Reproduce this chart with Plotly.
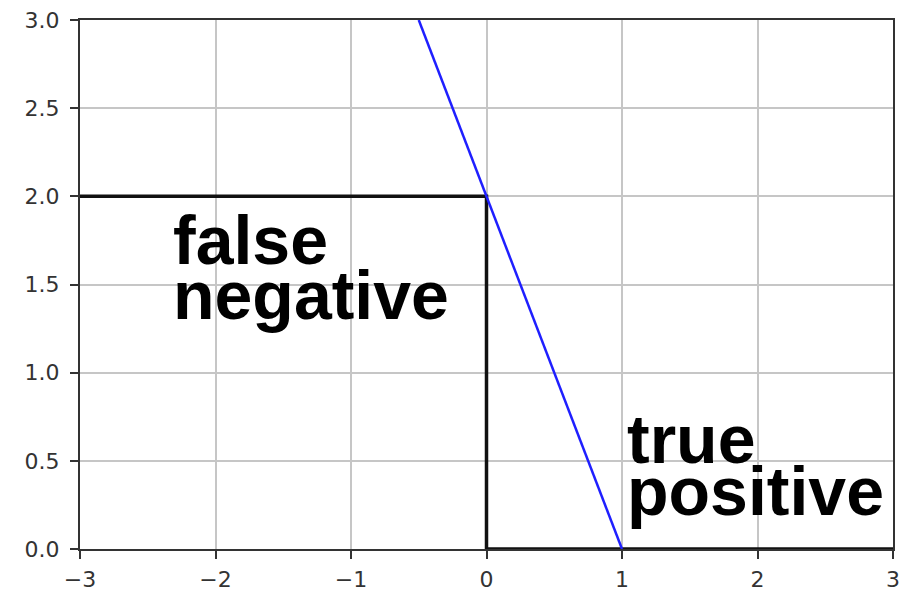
import plotly.graph_objects as go

# Decision boundary (blue) and the step classifier (black)
boundary_x = [-0.5, 1.0]
boundary_y = [3.0, 0.0]
step_x = [-3, 0, 0, 3]
step_y = [2, 2, 0, 0]

x_ticks = [-3, -2, -1, 0, 1, 2, 3]
x_tick_text = ["\u22123", "\u22122", "\u22121", "0", "1", "2", "3"]
y_ticks = [0.0, 0.5, 1.0, 1.5, 2.0, 2.5, 3.0]

# Region labels: (text line, x, baseline y)
labels = [
    ("false", -2.325, 1.628),
    ("negative", -2.325, 1.316),
    ("true", 1.02, 0.50),
    ("positive", 1.02, 0.205),
]

fig = go.Figure()
fig.add_trace(go.Scatter(
    x=step_x, y=step_y, mode="lines",
    line=dict(color="#111111", width=3.5), cliponaxis=False, showlegend=False,
))
fig.add_trace(go.Scatter(
    x=boundary_x, y=boundary_y, mode="lines",
    line=dict(color="#1f1fff", width=2.5), showlegend=False,
))

label_size = 68
for text, lx, ly in labels:
    fig.add_annotation(
        x=lx, y=ly, xref="x", yref="y", text=f"<b>{text}</b>",
        showarrow=False, xanchor="left", yanchor="bottom",
        yshift=-label_size * 0.26,
        font=dict(family="Liberation Sans, Arial, sans-serif", size=label_size, color="black"),
    )

axis_common = dict(
    showgrid=True, gridcolor="#c6c6c6", gridwidth=1.5,
    showline=True, linecolor="#333333", linewidth=2, mirror=True,
    ticks="outside", ticklen=8, tickwidth=1.8, tickcolor="#333333",
    zeroline=False, automargin=False,
    tickfont=dict(family="DejaVu Sans, sans-serif", size=22, color="#333333"),
)

fig.update_xaxes(range=[-3, 3], tickvals=x_ticks, ticktext=x_tick_text,
                 ticklabelstandoff=2, **axis_common)
fig.update_yaxes(range=[0, 3], tickvals=y_ticks, tickformat=".1f",
                 ticklabelstandoff=6, **axis_common)

fig.update_layout(
    width=904, height=594,
    margin=dict(l=80, r=11, t=20, b=45),
    paper_bgcolor="white", plot_bgcolor="white",
)

fig.write_html("out.html")
